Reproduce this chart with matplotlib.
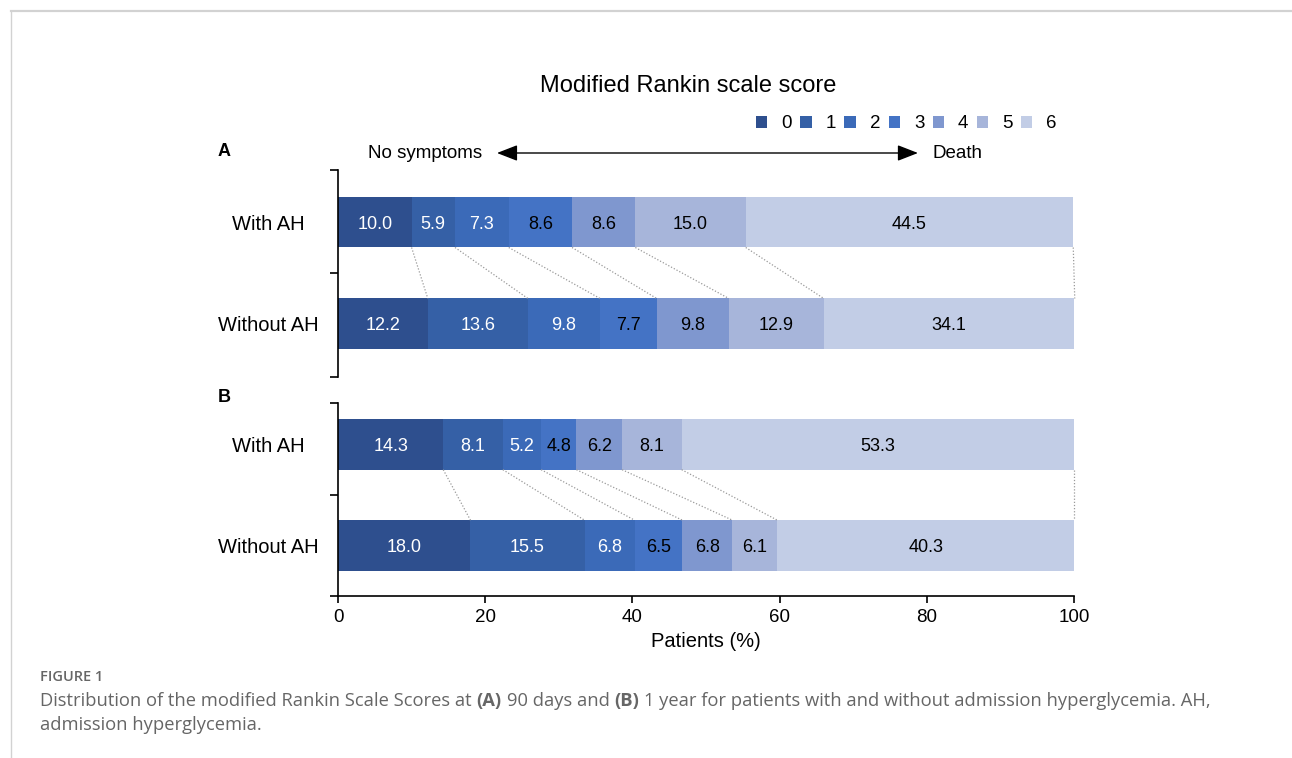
import numpy as np
import matplotlib.pyplot as plt
from matplotlib.patches import Patch
from matplotlib.lines import Line2D

plt.rcParams['font.family'] = ['Liberation Sans', 'DejaVu Sans']

##############################################
# Data

categories = ['With AH', 'Without AH']
scores     = ['0', '1', '2', '3', '4', '5', '6']

a_with    = [10.0, 5.9, 7.3, 8.6, 8.6, 15.0, 44.5]   # (A) 90 days
a_without = [12.2, 13.6, 9.8, 7.7, 9.8, 12.9, 34.1]
b_with    = [14.3, 8.1, 5.2, 4.8, 6.2, 8.1, 53.3]    # (B) 1 year
b_without = [18.0, 15.5, 6.8, 6.5, 6.8, 6.1, 40.3]

colors    = ['#2e4f8e', '#3560a6', '#3b6ab8', '#4473c5', '#7f97cf', '#a7b5da', '#c2cde6']
txtcolors = ['white', 'white', 'white', 'black', 'black', 'black', 'black']

BAR_H = 0.5
W, H = 1292, 758

def fx(px): return px / W
def fy(py): return 1 - py / H


def stacked_panel(ax, rows, ylim):
    ends = []
    for i, vals in enumerate(rows):
        lefts = np.concatenate([[0], np.cumsum(vals)[:-1]])
        bars = ax.barh(i, vals, left=lefts, height=BAR_H, color=colors, edgecolor='none')
        for b, v, c in zip(bars, vals, txtcolors):
            ax.text(b.get_x() + b.get_width() / 2, i, f'{v:.1f}', ha='center', va='center_baseline',
                    color=c, fontsize=13)
        ends.append(np.cumsum(vals))
    # dotted lines joining the segment borders of the two bars
    for x0, x1 in zip(ends[0], ends[1]):
        ax.plot([x0, x1], [BAR_H / 2, 1 - BAR_H / 2], ls=(0, (1, 1.5)), color='#9a9a9a',
                lw=0.9, clip_on=False)

    ax.set_xlim(0, 100)
    ax.set_ylim(*ylim)
    for s in ['top', 'right']:
        ax.spines[s].set_visible(False)
    ax.spines['left'].set_linewidth(1.2)
    ax.set_yticks([ylim[1], 0.5, ylim[0]])
    ax.set_yticklabels([])
    ax.tick_params(axis='y', which='major', direction='out', length=6, width=1.2)
    ax.set_yticks([0, 1], minor=True)
    ax.set_yticklabels(categories, minor=True, fontsize=14.5, ha='center')
    ax.tick_params(axis='y', which='minor', length=0, pad=50)


fig = plt.figure(figsize=(W / 100, H / 100), dpi=100)
ax_a = fig.add_axes([fx(338), fy(377), 736 / W, 207 / H])
ax_b = fig.add_axes([fx(338), fy(596), 736 / W, 193 / H])

stacked_panel(ax_a, [a_with, a_without], (1.52, -0.51))
stacked_panel(ax_b, [b_with, b_without], (1.50, -0.41))

ax_a.spines['bottom'].set_visible(False)
ax_a.tick_params(axis='x', bottom=False, labelbottom=False)

ax_b.spines['bottom'].set_linewidth(1.2)
ax_b.set_xticks(np.arange(0, 101, 20))
ax_b.tick_params(axis='x', direction='out', length=5, width=1.2, labelsize=13.5, pad=4)
ax_b.set_xlabel('Patients (%)', fontsize=14.5, labelpad=5)

# panel letters
fig.text(fx(218), fy(151), 'A', fontsize=13, fontweight='bold', va='center')
fig.text(fx(218), fy(397), 'B', fontsize=13, fontweight='bold', va='center')

# title + legend
fig.text(fx(688), fy(86), 'Modified Rankin scale score', fontsize=17, ha='center', va='center')
handles = [Patch(facecolor=c, edgecolor='none') for c in colors]
fig.legend(handles, scores, ncol=7, loc='center left', bbox_to_anchor=(fx(756), fy(124)),
           frameon=False, fontsize=13.5, handlelength=0.6, handleheight=0.6,
           handletextpad=0.75, columnspacing=0.45, borderpad=0, borderaxespad=0)

# no symptoms <-> death arrow
fig.text(fx(482), fy(153), 'No symptoms', fontsize=13.5, ha='right', va='center')
fig.text(fx(933), fy(153), 'Death', fontsize=13.5, ha='left', va='center')
ax_a.annotate('', xy=(78.8, fy(153)), xytext=(21.6, fy(153)),
              xycoords=('data', 'figure fraction'), textcoords=('data', 'figure fraction'),
              arrowprops=dict(arrowstyle='<|-|>,head_length=0.9,head_width=0.35',
                              color='black', lw=1, mutation_scale=14, shrinkA=0, shrinkB=0),
              annotation_clip=False)

# page frame
fig.add_artist(Line2D([fx(11), 1], [fy(11), fy(11)], color='#d2d2d2', lw=1.6))
fig.add_artist(Line2D([fx(11), fx(11)], [fy(11), 0], color='#d2d2d2', lw=1.0))

# caption
cap = dict(fontsize=13.2, color='#666666', family=['Open Sans', 'DejaVu Sans'])
fig.text(fx(40), fy(677), 'FIGURE 1', fontsize=10.5, color='#666666', fontweight='semibold',
         family=['Open Sans', 'DejaVu Sans'], va='center')
t = fig.text(fx(40), fy(710), 'Distribution of the modified Rankin Scale Scores at', va='bottom', **cap)
pieces = [('(A)', 'bold'), ('90 days and', 'normal'), ('(B)', 'bold'),
          ('1 year for patients with and without admission hyperglycemia. AH,', 'normal')]
for s, wgt in pieces:
    t = ax_b.annotate(s, xy=(1, 0), xycoords=t, xytext=(3.6, 0), textcoords='offset points',
                      va='bottom', ha='left', fontweight=wgt, annotation_clip=False, **cap)
fig.text(fx(40), fy(734), 'admission hyperglycemia.', va='bottom', **cap)

fig.savefig('out.png', dpi=100)
